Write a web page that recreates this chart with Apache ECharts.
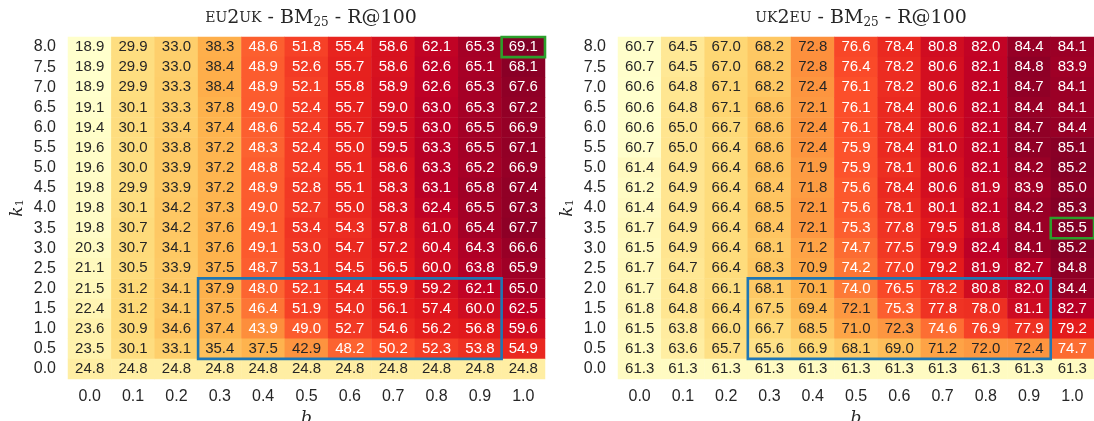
<!DOCTYPE html>
<html>
<head>
<meta charset="utf-8">
<script src="https://cdn.jsdelivr.net/npm/echarts@6/dist/echarts.min.js"></script>
<style>html,body{margin:0;padding:0;background:#fff}#c{width:1094px;height:421px}</style>
</head>
<body>
<div id="c"></div>
<script>
const bLabels = ['0.0','0.1','0.2','0.3','0.4','0.5','0.6','0.7','0.8','0.9','1.0'];
const k1Labels = ['0.0','0.5','1.0','1.5','2.0','2.5','3.0','3.5','4.0','4.5','5.0','5.5','6.0','6.5','7.0','7.5','8.0'];

// rows listed from k1 = 8.0 (top) down to k1 = 0.0 (bottom)
const eu2uk = [
  [18.9,29.9,33.0,38.3,48.6,51.8,55.4,58.6,62.1,65.3,69.1],
  [18.9,29.9,33.0,38.4,48.9,52.6,55.7,58.6,62.6,65.1,68.1],
  [18.9,29.9,33.3,38.4,48.9,52.1,55.8,58.9,62.6,65.3,67.6],
  [19.1,30.1,33.3,37.8,49.0,52.4,55.7,59.0,63.0,65.3,67.2],
  [19.4,30.1,33.4,37.4,48.6,52.4,55.7,59.5,63.0,65.5,66.9],
  [19.6,30.0,33.8,37.2,48.3,52.4,55.0,59.5,63.3,65.5,67.1],
  [19.6,30.0,33.9,37.2,48.8,52.4,55.1,58.6,63.3,65.2,66.9],
  [19.8,29.9,33.9,37.2,48.9,52.8,55.1,58.3,63.1,65.8,67.4],
  [19.8,30.1,34.2,37.3,49.0,52.7,55.0,58.3,62.4,65.5,67.3],
  [19.8,30.7,34.2,37.6,49.1,53.4,54.3,57.8,61.0,65.4,67.7],
  [20.3,30.7,34.1,37.6,49.1,53.0,54.7,57.2,60.4,64.3,66.6],
  [21.1,30.5,33.9,37.5,48.7,53.1,54.5,56.5,60.0,63.8,65.9],
  [21.5,31.2,34.1,37.9,48.0,52.1,54.4,55.9,59.2,62.1,65.0],
  [22.4,31.2,34.1,37.5,46.4,51.9,54.0,56.1,57.4,60.0,62.5],
  [23.6,30.9,34.6,37.4,43.9,49.0,52.7,54.6,56.2,56.8,59.6],
  [23.5,30.1,33.1,35.4,37.5,42.9,48.2,50.2,52.3,53.8,54.9],
  [24.8,24.8,24.8,24.8,24.8,24.8,24.8,24.8,24.8,24.8,24.8]
];
const uk2eu = [
  [60.7,64.5,67.0,68.2,72.8,76.6,78.4,80.8,82.0,84.4,84.1],
  [60.7,64.5,67.0,68.2,72.8,76.4,78.2,80.6,82.1,84.8,83.9],
  [60.6,64.8,67.1,68.2,72.4,76.1,78.2,80.6,82.1,84.7,84.1],
  [60.6,64.8,67.1,68.6,72.1,76.1,78.4,80.6,82.1,84.4,84.1],
  [60.6,65.0,66.7,68.6,72.4,76.1,78.4,80.6,82.1,84.7,84.4],
  [60.7,65.0,66.4,68.6,72.4,75.9,78.4,81.0,82.1,84.7,85.1],
  [61.4,64.9,66.4,68.6,71.9,75.9,78.1,80.6,82.1,84.2,85.2],
  [61.2,64.9,66.4,68.4,71.8,75.6,78.4,80.6,81.9,83.9,85.0],
  [61.4,64.9,66.4,68.5,72.1,75.6,78.1,80.1,82.1,84.2,85.3],
  [61.7,64.9,66.4,68.4,72.1,75.3,77.8,79.5,81.8,84.1,85.5],
  [61.5,64.9,66.4,68.1,71.2,74.7,77.5,79.9,82.4,84.1,85.2],
  [61.7,64.7,66.4,68.3,70.9,74.2,77.0,79.2,81.9,82.7,84.8],
  [61.7,64.8,66.1,68.1,70.1,74.0,76.5,78.2,80.8,82.0,84.4],
  [61.8,64.8,66.4,67.5,69.4,72.1,75.3,77.8,78.0,81.1,82.7],
  [61.5,63.8,66.0,66.7,68.5,71.0,72.3,74.6,76.9,77.9,79.2],
  [61.3,63.6,65.7,65.6,66.9,68.1,69.0,71.2,72.0,72.4,74.7],
  [61.3,61.3,61.3,61.3,61.3,61.3,61.3,61.3,61.3,61.3,61.3]
];

// highlighted regions: [b from, k1 top, b to, k1 bottom]
const blueBox = ['0.3','2.0','0.9','0.5'];
const greenBoxLeft = ['1.0','8.0'];
const greenBoxRight = ['1.0','3.5'];

const YlOrRd = ['#ffffcc','#ffeda0','#fed976','#feb24c','#fd8d3c','#fc4e2a','#e31a1c','#bd0026','#800026'];
const SANS = 'Liberation Sans';
const SERIF = 'DejaVu Serif';
const TXT = '#262626';

function build(rows) {
  const flat = rows.flat();
  const mn = Math.min(...flat), mx = Math.max(...flat);
  const data = [];
  rows.forEach((row, r) => {
    const yi = k1Labels.length - 1 - r;
    row.forEach((v, c) => {
      const t = (v - mn) / (mx - mn);
      data.push({value: [c, yi, v], label: {color: t > 0.495 ? '#ffffff' : TXT}});
    });
  });
  return {data, mn, mx};
}
const L = build(eu2uk), R = build(uk2eu);

function boxData(b) {
  return [bLabels.indexOf(b[0]), k1Labels.indexOf(b[1]),
          bLabels.indexOf(b[2] || b[0]), k1Labels.indexOf(b[3] || b[1])];
}

const grids = [
  {left: 68, top: 37, width: 477, height: 342, outerBoundsMode: 'none', containLabel: false},
  {left: 618, top: 37, width: 476, height: 342, outerBoundsMode: 'none', containLabel: false}
];

function xAx(i) {
  return {
    type: 'category', gridIndex: i, data: bLabels,
    axisLine: {show: false}, axisTick: {show: false}, splitLine: {show: false},
    axisLabel: {fontFamily: SANS, fontSize: 16, color: TXT, margin: 10, interval: 0},
    name: 'b', nameLocation: 'middle', nameGap: 31,
    nameTextStyle: {fontFamily: SERIF, fontStyle: 'italic', fontSize: 17, color: TXT}
  };
}
function yAx(i) {
  return {
    type: 'category', gridIndex: i, data: k1Labels,
    axisLine: {show: false}, axisTick: {show: false}, splitLine: {show: false},
    axisLabel: {fontFamily: SANS, fontSize: 16, color: TXT, margin: 12, interval: 0},
    name: '{i|k}{s|1}', nameLocation: 'middle', nameGap: 42,
    nameTextStyle: {
      rich: {
        i: {fontFamily: SERIF, fontStyle: 'italic', fontSize: 17, color: TXT, lineHeight: 20, verticalAlign: 'bottom'},
        s: {fontFamily: SERIF, fontSize: 11, color: TXT, lineHeight: 14, verticalAlign: 'bottom'}
      }
    }
  };
}

function heat(i, d) {
  return {
    type: 'heatmap', xAxisIndex: i, yAxisIndex: i, data: d.data,
    label: {show: true, fontFamily: SANS, fontSize: 15,
      formatter: p => p.value[2].toFixed(1)},
    itemStyle: {borderWidth: 0},
    emphasis: {disabled: true}
  };
}

function boxes(i, list) {
  return {
    type: 'custom', xAxisIndex: i, yAxisIndex: i, clip: false, z: 10,
    data: list,
    encode: {x: [0, 2], y: [1, 3]},
    renderItem: (params, api) => {
      const p0 = api.coord([api.value(0), api.value(1)]);
      const p1 = api.coord([api.value(2), api.value(3)]);
      const s = api.size([1, 1]);
      const x = Math.min(p0[0], p1[0]) - s[0] / 2;
      const y = Math.min(p0[1], p1[1]) - s[1] / 2;
      const w = Math.abs(p1[0] - p0[0]) + s[0];
      const h = Math.abs(p1[1] - p0[1]) + s[1];
      const col = api.value(4) === 0 ? '#1f77b4' : '#2ca02c';
      return {type: 'rect', shape: {x, y, width: w, height: h},
        style: {fill: 'none', stroke: col, lineWidth: 2.6}};
    }
  };
}

const titleRich = {
  sc: {fontFamily: SERIF, fontSize: 14, color: TXT, fontWeight: 'normal'},
  n: {fontFamily: SERIF, fontSize: 19, color: TXT, fontWeight: 'normal'},
  sub: {fontFamily: SERIF, fontSize: 12, color: TXT, fontWeight: 'normal', verticalAlign: 'bottom', lineHeight: 12}
};

const option = {
  animation: false,
  backgroundColor: '#ffffff',
  title: [
    {text: '{sc|EU}{n|2}{sc|UK}{n| - BM}{sub|25}{n| - R@100}', left: 306, top: 2, textAlign: 'center',
      textStyle: {rich: titleRich, lineHeight: 22, fontWeight: 'normal'}},
    {text: '{sc|UK}{n|2}{sc|EU}{n| - BM}{sub|25}{n| - R@100}', left: 856, top: 2, textAlign: 'center',
      textStyle: {rich: titleRich, lineHeight: 22, fontWeight: 'normal'}}
  ],
  grid: grids,
  xAxis: [xAx(0), xAx(1)],
  yAxis: [yAx(0), yAx(1)],
  visualMap: [
    {show: false, seriesIndex: 0, dimension: 2, min: L.mn, max: L.mx, inRange: {color: YlOrRd}},
    {show: false, seriesIndex: 1, dimension: 2, min: R.mn, max: R.mx, inRange: {color: YlOrRd}}
  ],
  series: [
    heat(0, L), heat(1, R),
    boxes(0, [boxData(blueBox).concat([0]), boxData(greenBoxLeft).concat([1])]),
    boxes(1, [boxData(blueBox).concat([0]), boxData(greenBoxRight).concat([1])])
  ]
};
const chart = echarts.init(document.getElementById('c'), null, {renderer: 'canvas'});
chart.setOption(option);
</script>
</body>
</html>
